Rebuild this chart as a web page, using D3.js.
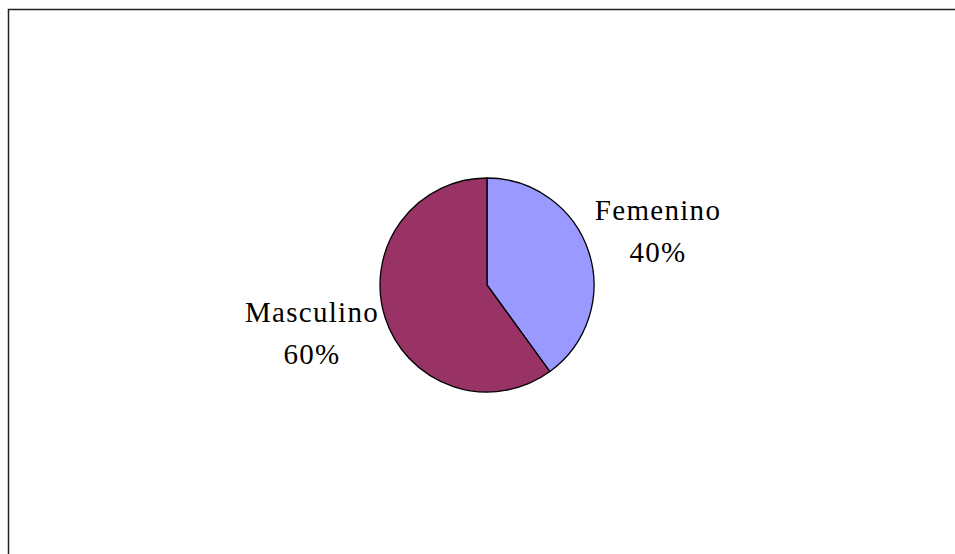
<!DOCTYPE html>
<html>
<head>
<meta charset="utf-8">
<script src="https://cdn.jsdelivr.net/npm/d3@7"></script>
<style>
  html, body { margin: 0; padding: 0; background: #fff; }
  svg { display: block; }
  .lbl { font-family: "Liberation Serif", "DejaVu Serif", serif; font-size: 29px; letter-spacing: 1.3px; fill: #000; }
</style>
</head>
<body>
<svg id="chart" width="955" height="554"></svg>
<script>
// Gender split
const categories = ["Femenino", "Masculino"];
const values = [40, 60];
const colors = ["#9999FF", "#993366"];

const svg = d3.select("#chart");

// chart area frame (open on right and bottom, extends past view)
svg.append("rect")
  .attr("x", 8.5).attr("y", 9.5)
  .attr("width", 1000).attr("height", 1000)
  .attr("fill", "none")
  .attr("stroke", "#222")
  .attr("stroke-width", 1.5);

const cx = 487, cy = 285, r = 107;

const pie = d3.pie().sort(null).value(d => d.v);
const arcs = pie(categories.map((c, i) => ({ c, v: values[i], col: colors[i] })));
const arc = d3.arc().innerRadius(0).outerRadius(r);

const g = svg.append("g").attr("transform", `translate(${cx},${cy})`);
g.selectAll("path")
  .data(arcs)
  .join("path")
  .attr("d", arc)
  .attr("fill", d => d.data.col)
  .attr("stroke", "#000")
  .attr("stroke-width", 1.3)
  .attr("stroke-linejoin", "round");

// labels outside each slice
const total = d3.sum(values);
const labelPos = [
  { x: 658, y: 220 },
  { x: 312, y: 322 }
];
arcs.forEach((d, i) => {
  const t = svg.append("text")
    .attr("class", "lbl")
    .attr("text-anchor", "middle")
    .attr("x", labelPos[i].x)
    .attr("y", labelPos[i].y);
  t.append("tspan").attr("x", labelPos[i].x).text(d.data.c);
  t.append("tspan").attr("x", labelPos[i].x).attr("dy", 42)
    .text(Math.round(d.data.v / total * 100) + "%");
});
</script>
</body>
</html>
